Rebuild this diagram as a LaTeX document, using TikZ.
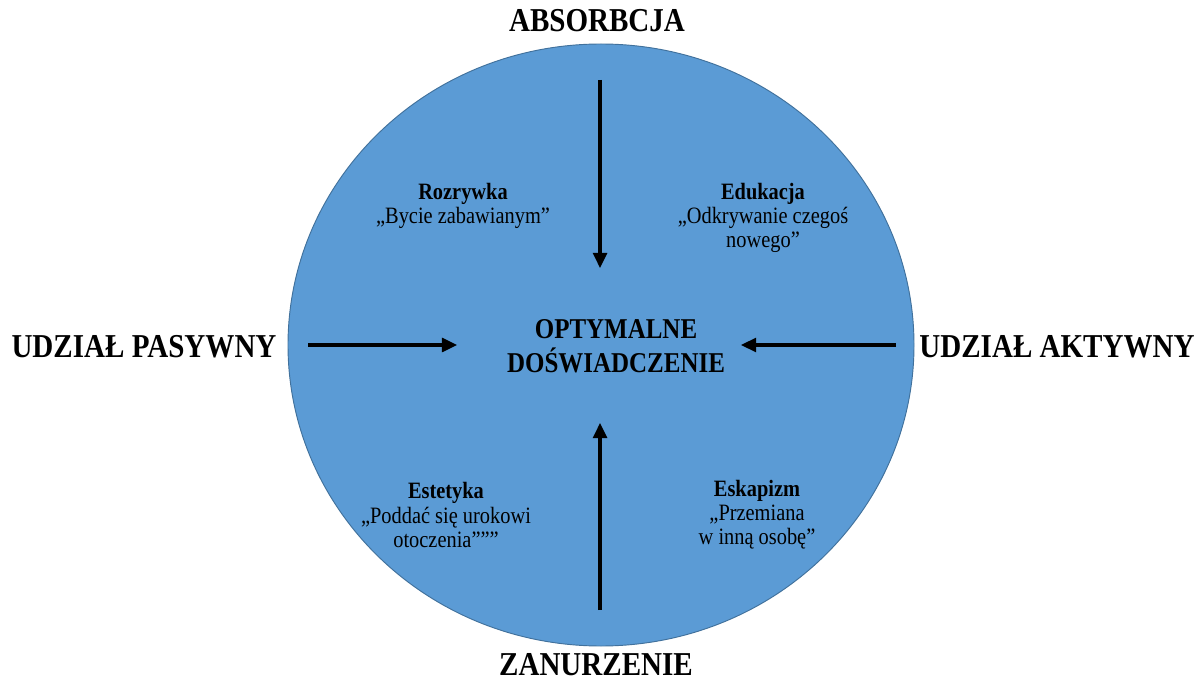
\documentclass[tikz,border=0pt]{standalone}
\usepackage{fontspec}
\setmainfont{Liberation Serif}[FakeStretch=0.87]
\usetikzlibrary{arrows.meta,positioning}
\definecolor{discfill}{HTML}{5B9BD5}
\definecolor{discline}{HTML}{41719C}
\tikzset{axislabel/.style={font=\fontsize{28.5}{34}\selectfont\bfseries,inner sep=0pt},centrelabel/.style={font=\fontsize{24.5}{29}\selectfont\bfseries,align=center,inner sep=0pt},realmlabel/.style={font=\fontsize{20}{20.5}\selectfont,align=center,inner sep=0pt},pusharrow/.style={line width=2.6pt,-{Triangle[length=13pt,width=12pt]}}}

\begin{document}
\begin{tikzpicture}[x=0.03cm,y=-0.03cm]
\useasboundingbox (0,0) rectangle (1203,683);
\draw[discline,fill=discfill,line width=.8pt] (601,345) ellipse [x radius=313,y radius=301];
\node[axislabel] (absorb) at (597,21) {ABSORBCJA};
\node[axislabel] (immerse) at (596,665) {ZANURZENIE};
\node[axislabel] (passive) at (144,347) {UDZIAŁ PASYWNY};
\node[axislabel] (active) at (1057,347) {UDZIAŁ AKTYWNY};
\node[centrelabel] (optimal) at (616,346) {OPTYMALNE\\DOŚWIADCZENIE};
\node[realmlabel] (fun) at (463,206) {{\bfseries Rozrywka}\\„Bycie zabawianym”};
\node[realmlabel] (learn) at (763,218) {{\bfseries Edukacja}\\„Odkrywanie czegoś\\nowego”};
\node[realmlabel] (beauty) at (446,515) {{\bfseries Estetyka}\\„Poddać się urokowi\\otoczenia”””};
\node[realmlabel] (escape) at (757,515) {{\bfseries Eskapizm}\\„Przemiana\\w inną osobę”};
\coordinate (topfrom) at (600,80);
\coordinate (topto) at (600,268);
\coordinate (botfrom) at (600,610);
\coordinate (botto) at (600,423);
\coordinate (leftfrom) at (308,345);
\coordinate (leftto) at (457,345);
\coordinate (rightfrom) at (896,345);
\coordinate (rightto) at (741,345);
\foreach \u/\v in {topfrom/topto,botfrom/botto,leftfrom/leftto,rightfrom/rightto}{\draw[pusharrow] (\u)--(\v);}
\end{tikzpicture}
\end{document}
